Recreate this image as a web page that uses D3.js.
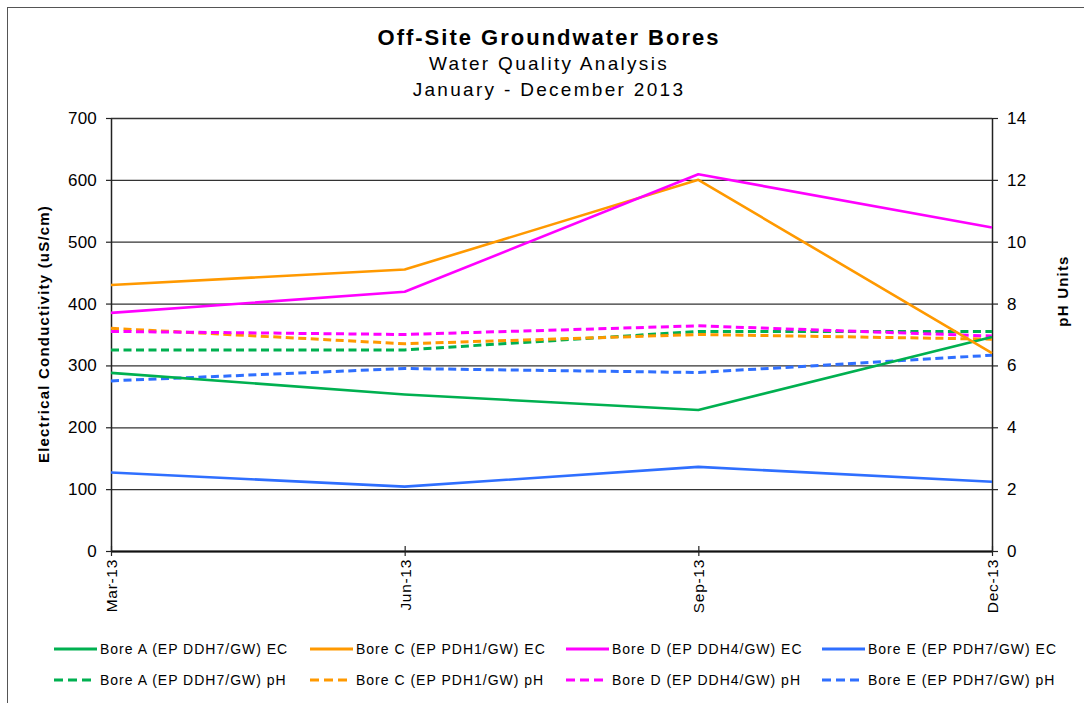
<!DOCTYPE html>
<html>
<head>
<meta charset="utf-8">
<script src="https://cdn.jsdelivr.net/npm/d3@7"></script>
<style>
  body { margin: 0; background: #fff; }
  text { font-family: "Liberation Sans", Arial, sans-serif; fill: #000; }
</style>
</head>
<body>
<svg id="chart" width="1084" height="703"></svg>
<script>
// Sampling dates (x categories)
var months = ["Mar-13", "Jun-13", "Sep-13", "Dec-13"];

// Electrical conductivity (uS/cm), left axis
var boreA_EC = [288, 253, 228, 346];
var boreC_EC = [430, 455, 600, 320];
var boreD_EC = [385, 419, 609, 523];
var boreE_EC = [127, 104, 136, 112];

// pH, right axis
var boreA_pH = [6.5, 6.5, 7.1, 7.1];
var boreC_pH = [7.2, 6.7, 7.0, 6.85];
var boreD_pH = [7.1, 7.0, 7.28, 6.95];
var boreE_pH = [5.5, 5.9, 5.77, 6.33];

var ecTicks = [0, 100, 200, 300, 400, 500, 600, 700];
var phTicks = [0, 2, 4, 6, 8, 10, 12, 14];

var bores = ["Bore A (EP DDH7/GW)", "Bore C (EP PDH1/GW)", "Bore D (EP DDH4/GW)", "Bore E (EP PDH7/GW)"];
var colors = ["#00B050", "#FF9900", "#FF00FF", "#2F6FFF"];

var series = [
    { name: bores[0] + " EC", values: boreA_EC, color: colors[0], axis: "ec" },
    { name: bores[1] + " EC", values: boreC_EC, color: colors[1], axis: "ec" },
    { name: bores[2] + " EC", values: boreD_EC, color: colors[2], axis: "ec" },
    { name: bores[3] + " EC", values: boreE_EC, color: colors[3], axis: "ec" },
    { name: bores[0] + " pH", values: boreA_pH, color: colors[0], axis: "ph" },
    { name: bores[1] + " pH", values: boreC_pH, color: colors[1], axis: "ph" },
    { name: bores[2] + " pH", values: boreD_pH, color: colors[2], axis: "ph" },
    { name: bores[3] + " pH", values: boreE_pH, color: colors[3], axis: "ph" }
];

// Plot area
var plot = { left: 111, right: 992, top: 118, bottom: 551 };

var svg = d3.select("#chart");

// Outer frame (only top/left edges show inside the picture)
svg.append("rect")
    .attr("x", 7.5).attr("y", 7.5)
    .attr("width", 1200).attr("height", 800)
    .attr("fill", "none")
    .attr("stroke", "#555");

var x = d3.scalePoint().domain(months).range([plot.left, plot.right]);
var yEC = d3.scaleLinear().domain([0, 700]).range([plot.bottom, plot.top]);
var yPH = d3.scaleLinear().domain([0, 14]).range([plot.bottom, plot.top]);

// Gridlines
svg.append("g")
    .attr("class", "grid")
    .attr("transform", "translate(" + plot.left + ",0)")
    .call(d3.axisLeft(yEC).tickValues(ecTicks).tickSize(-(plot.right - plot.left)).tickFormat(""))
    .call(g => g.select(".domain").remove())
    .selectAll("line")
    .attr("stroke", "#333")
    .attr("stroke-width", 1.3);

// Left axis
var leftAxis = svg.append("g")
    .attr("transform", "translate(" + plot.left + ",0)")
    .call(d3.axisLeft(yEC).tickValues(ecTicks).tickSize(5).tickPadding(9).tickSizeOuter(0));

// Right axis
var rightAxis = svg.append("g")
    .attr("transform", "translate(" + plot.right + ",0)")
    .call(d3.axisRight(yPH).tickValues(phTicks).tickSize(6).tickPadding(9).tickSizeOuter(0));

[leftAxis, rightAxis].forEach(function(g) {
    g.select(".domain").attr("stroke", "#222").attr("stroke-width", 1.5);
    g.selectAll(".tick line").attr("stroke", "#222").attr("stroke-width", 1.2);
    g.selectAll(".tick text")
        .style("font-size", "17px")
        .style("letter-spacing", "0.2px")
        .attr("fill", "#000");
});

// Bottom axis, ticks cross the line
var bottomAxis = svg.append("g")
    .attr("transform", "translate(0," + plot.bottom + ")")
    .call(d3.axisBottom(x).tickSize(5).tickSizeOuter(0));
bottomAxis.select(".domain").attr("stroke", "#111").attr("stroke-width", 1.8);
bottomAxis.selectAll(".tick line")
    .attr("y1", -5).attr("y2", 5)
    .attr("stroke", "#222").attr("stroke-width", 1.2);
bottomAxis.selectAll(".tick text")
    .attr("transform", "translate(0,8) rotate(-90)")
    .attr("x", 0).attr("y", 0).attr("dy", "0.35em")
    .attr("text-anchor", "end")
    .style("font-size", "15.5px")
    .style("letter-spacing", "0.7px")
    .attr("fill", "#000");

// Lines
var line = function(s) {
    var yScale = s.axis === "ec" ? yEC : yPH;
    return d3.line()
        .x((d, i) => x(months[i]))
        .y(d => yScale(d))(s.values);
};

// draw pH (dashed) first, EC on top
var drawOrder = series.slice(4).concat(series.slice(0, 4));
svg.append("g")
    .selectAll("path")
    .data(drawOrder)
    .enter().append("path")
    .attr("d", line)
    .attr("fill", "none")
    .attr("stroke", d => d.color)
    .attr("stroke-width", d => d.axis === "ec" ? 2.6 : 3)
    .attr("stroke-dasharray", d => d.axis === "ec" ? null : "8,4.5")
    .attr("stroke-linejoin", "round");

// Titles
svg.append("text")
    .attr("x", 549).attr("y", 45)
    .attr("text-anchor", "middle")
    .style("font-size", "22px").style("font-weight", "bold").style("letter-spacing", "2px")
    .text("Off-Site Groundwater Bores");
svg.append("text")
    .attr("x", 549).attr("y", 70)
    .attr("text-anchor", "middle")
    .style("font-size", "19px").style("letter-spacing", "2.3px")
    .text("Water Quality Analysis");
svg.append("text")
    .attr("x", 549).attr("y", 96)
    .attr("text-anchor", "middle")
    .style("font-size", "19px").style("letter-spacing", "2.3px")
    .text("January - December 2013");

// Axis titles
svg.append("text")
    .attr("transform", "translate(44,334) rotate(-90)")
    .attr("dy", "0.35em")
    .attr("text-anchor", "middle")
    .style("font-size", "15px").style("font-weight", "bold").style("letter-spacing", "1.2px")
    .text("Electrical Conductivity (uS/cm)");
svg.append("text")
    .attr("transform", "translate(1063,291) rotate(-90)")
    .attr("dy", "0.35em")
    .attr("text-anchor", "middle")
    .style("font-size", "15px").style("font-weight", "bold").style("letter-spacing", "1.2px")
    .text("pH Units");

// Legend
var legend = svg.append("g")
    .selectAll("g")
    .data(series)
    .enter().append("g")
    .attr("transform", (d, i) => "translate(" + (54 + (i % 4) * 256) + "," + (649 + Math.floor(i / 4) * 31) + ")");

legend.append("line")
    .attr("x1", 0).attr("x2", d => d.axis === "ec" ? 43 : 38)
    .attr("y1", 0).attr("y2", 0)
    .attr("stroke", d => d.color)
    .attr("stroke-width", 3)
    .attr("stroke-dasharray", d => d.axis === "ec" ? null : "9,5");

legend.append("text")
    .attr("x", 46).attr("y", 0).attr("dy", "0.35em")
    .style("font-size", "14px").style("letter-spacing", "1px")
    .text(d => d.name);
</script>
</body>
</html>
